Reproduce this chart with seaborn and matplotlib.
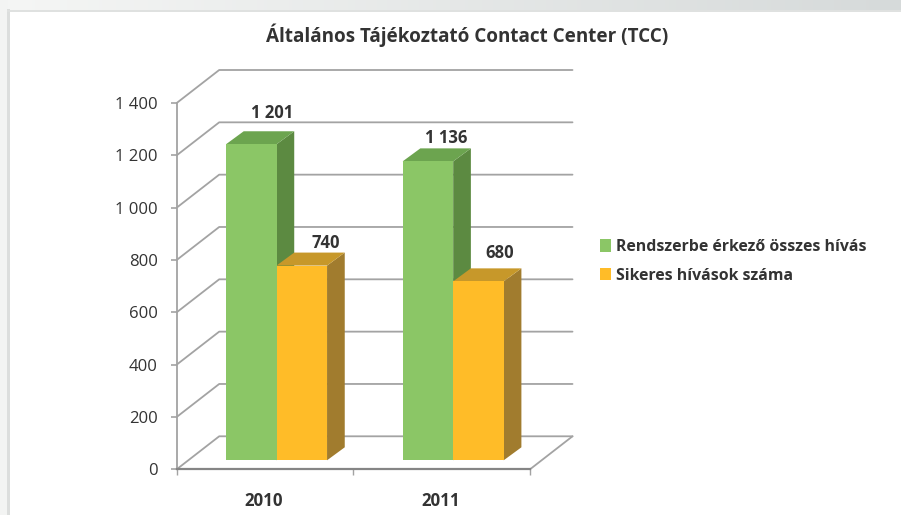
import numpy as np
import pandas as pd
import seaborn as sns
from matplotlib import pyplot as plt
from matplotlib.patches import Polygon, Rectangle
from matplotlib.transforms import IdentityTransform

years = ['2010', '2011']
series_names = ['Rendszerbe érkező összes hívás', 'Sikeres hívások száma']
incoming = [1201, 1136]
successful = [740, 680]
bar_labels = ['1 201', '740', '1 136', '680']
y_values = [0, 200, 400, 600, 800, 1000, 1200, 1400]
y_labels = ['0', '200', '400', '600', '800', '1 000', '1 200', '1 400']

W, H = 901, 515
TEXT = '#333333'
GRID = '#a3a3a3'

sns.set_theme(style="white")
plt.rcParams['font.family'] = ['Open Sans', 'DejaVu Sans']

df = pd.DataFrame({
    'year': years * 2,
    'calls': incoming + successful,
    'series': [series_names[0]] * 2 + [series_names[1]] * 2,
})


def box(left, top, right, bottom):
    # pixel box of the picture -> figure fractions
    return [left / W, 1 - bottom / H, (right - left) / W, (bottom - top) / H]


fig = plt.figure(figsize=(W / 100, H / 100), dpi=100)

# page frame behind the chart
bg = fig.add_axes([0, 0, 1, 1], zorder=0)
bg.set_xlim(0, W)
bg.set_ylim(H, 0)
bg.axis('off')
bg.imshow(np.linspace(0, 1, 256)[None, :], cmap=sns.blend_palette(['#f5f6f5', '#d6dada'], as_cmap=True),
          extent=(0, W, 11, 0), aspect='auto')
bg.set_xlim(0, W)
bg.set_ylim(H, 0)
bg.add_patch(Rectangle((0, 0), 8, H, color='#f3f4f3', lw=0))
bg.add_patch(Rectangle((7, 9), 2.5, H, color='#dcdedd', lw=0))
bg.add_patch(Rectangle((7, 9.5), W, 2, color='#dfe1e0', lw=0))

# front plane of the 3D box, carries the scale and the ticks
ax = fig.add_axes(box(176.7, 103, 530, 469.3), zorder=1)
ax.patch.set_visible(False)
ax.set_xlim(-0.5, 1.5)
ax.set_ylim(0, 1400)
ax.set_yticks(y_values, y_labels)
ax.set_xticks([-0.5, 0.5, 1.5], ['', '', ''])
ax.tick_params(axis='y', length=4, width=1.2, color=GRID, pad=9.5, labelsize=12, labelcolor=TEXT, left=True)
ax.tick_params(axis='x', length=4.5, width=1, color=GRID, bottom=True)
for side in ['top', 'right']:
    ax.spines[side].set_visible(False)
ax.spines['left'].set_color(GRID)
ax.spines['left'].set_linewidth(1.3)
ax.spines['bottom'].set_color('#858585')
ax.spines['bottom'].set_linewidth(1.6)

# oblique wall lines and back wall lines, offset in pixels
DEPTH_X, DEPTH_Y = 42.5, 33
to_px = IdentityTransform()
for v in y_values:
    x0, y0 = ax.transData.transform((-0.5, v))
    x1, _ = ax.transData.transform((1.5, v))
    ax.plot([x0, x0 + DEPTH_X, x1 + DEPTH_X], [y0, y0 + DEPTH_Y, y0 + DEPTH_Y], color=GRID, lw=1.3,
            transform=to_px, clip_on=False, zorder=1)
x1, y1 = ax.transData.transform((1.5, 0))
ax.plot([x1, x1 + DEPTH_X], [y1, y1 + DEPTH_Y], color=GRID, lw=1.3, transform=to_px, clip_on=False)

for x, label in zip([0, 1], years):
    ax.annotate(label, (x, 0), xytext=(-1, -16), textcoords='offset points', ha='center', va='top',
                fontsize=12.2, fontweight='bold', color=TEXT)

# bars stand a bit deeper in the box, so they get their own axes
bar_ax = fig.add_axes(box(188.2, 91.9, 541.5, 460.3), zorder=2)
sns.barplot(data=df, x='year', y='calls', hue='series', hue_order=series_names,
            palette=['#8bc666', '#ffbc28'], saturation=1, width=0.572, gap=0, linewidth=0, ax=bar_ax)
bar_ax.set_xlim(-0.5, 1.5)
bar_ax.set_ylim(0, 1400)
bar_ax.patch.set_visible(False)
for s in bar_ax.spines.values():
    s.set_visible(False)
bar_ax.set_xticks([])
bar_ax.set_yticks([])
bar_ax.set(xlabel='', ylabel='')

# side and top faces taken from the drawn bars
BAR_X, BAR_Y = 17.7, 13
faces = [('#6ca44f', '#5c8a41', 1.5), ('#c7982a', '#a17c2e', 1.6)]
for container, (top_c, side_c, z) in zip(bar_ax.containers, faces):
    for patch in container:
        (l, b), (r, t) = bar_ax.transData.transform(
            [(patch.get_x(), 0), (patch.get_x() + patch.get_width(), patch.get_height())])
        patch.set_zorder(2)
        bar_ax.add_patch(Polygon([(r, b), (r + BAR_X, b + BAR_Y), (r + BAR_X, t + BAR_Y), (r, t)], color=side_c,
                                 lw=0, transform=to_px, clip_on=False, zorder=z))
        bar_ax.add_patch(Polygon([(l, t), (l + BAR_X, t + BAR_Y), (r + BAR_X, t + BAR_Y), (r, t)], color=top_c,
                                 lw=0, transform=to_px, clip_on=False, zorder=z))

label_nudge = [(15, 22.5), (17.5, 16.5), (13, 17), (15, 20.5)]
all_bars = [p for c in bar_ax.containers for p in c]
order = [all_bars[0], all_bars[2], all_bars[1], all_bars[3]]
for patch, text, (dx, dy) in zip(order, bar_labels, label_nudge):
    bar_ax.annotate(text, (patch.get_x() + patch.get_width() / 2, patch.get_height()), xytext=(dx, dy),
                    textcoords='offset points', ha='center', va='center', fontsize=12, fontweight='bold',
                    color=TEXT)

sns.move_legend(bar_ax, 'upper left', bbox_to_anchor=(600 / W, 1 - 239 / H), bbox_transform=fig.transFigure,
                title=None, frameon=False, labelcolor=TEXT, handlelength=0.68, handleheight=0.8,
                handletextpad=0.35, labelspacing=0.8, borderpad=0, borderaxespad=0,
                prop={'weight': 'bold', 'size': 11.4})

fig.suptitle('Általános Tájékoztató Contact Center (TCC)', x=467 / W, y=1 - 35 / H, va='center', ha='center',
             fontsize=13.6, fontweight='bold', color=TEXT)

fig.savefig('out.png', dpi=100)
